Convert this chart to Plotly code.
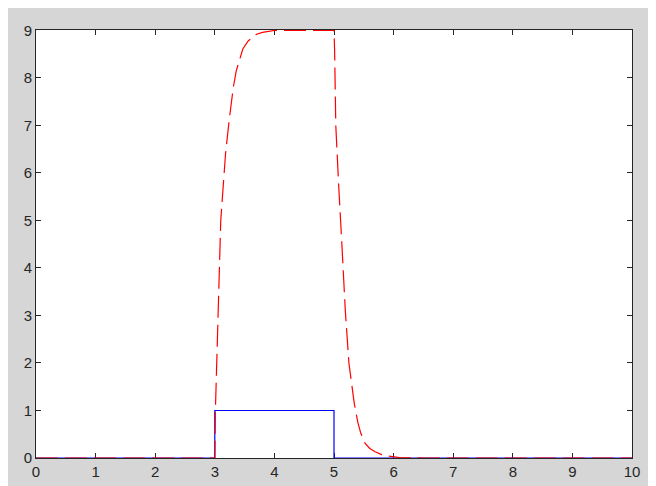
import plotly.graph_objects as go

# Input pulse (blue, solid)
pulse_x = [0, 3, 3, 5, 5, 10]
pulse_y = [0, 0, 1, 1, 0, 0]

# Response (red, dashed)
resp_x = [0, 3.0, 3.01, 3.04, 3.07, 3.10, 3.14, 3.18, 3.24, 3.31, 3.36, 3.42, 3.47, 3.56, 3.63, 3.70, 3.80, 3.92, 4.0,
          5.0, 5.01, 5.03, 5.05, 5.08, 5.13, 5.19, 5.25, 5.30, 5.34, 5.40, 5.45, 5.52, 5.60, 5.69, 5.80, 5.91, 6.1, 6.5, 10]
resp_y = [0, 0, 1.0, 2.4, 3.7, 5.0, 5.7, 6.4, 7.1, 7.8, 8.15, 8.43, 8.61, 8.78, 8.86, 8.92, 8.96, 8.98, 9.0,
          9.0, 8.6, 7.0, 6.4, 5.7, 4.55, 3.1, 2.0, 1.5, 1.15, 0.75, 0.52, 0.31, 0.2, 0.13, 0.07, 0.04, 0.01, 0.0, 0]

x_ticks = list(range(0, 11))
y_ticks = list(range(0, 10))

fig = go.Figure()
fig.add_trace(go.Scatter(x=pulse_x, y=pulse_y, mode="lines",
                         line=dict(color="#0000ff", width=1.2), showlegend=False))
fig.add_trace(go.Scatter(x=resp_x, y=resp_y, mode="lines",
                         line=dict(color="#ff0000", width=1.2, dash="22px,7px"), showlegend=False))

axis_common = dict(
    showgrid=False, zeroline=False, showline=True, linecolor="#262626", linewidth=1,
    mirror="ticks", ticks="inside", ticklen=5, tickcolor="#262626", tickwidth=1,
    tickfont=dict(family="Liberation Sans, Arial, sans-serif", size=15, color="#262626"),
    layer="below traces",
)

fig.update_xaxes(range=[0, 10], tickvals=x_ticks, ticktext=[str(v) for v in x_ticks], **axis_common)
fig.update_yaxes(range=[0, 9.01], tickvals=y_ticks, ticktext=[str(v) for v in y_ticks], **axis_common)

fig.update_layout(
    width=656, height=486,
    margin=dict(l=28, r=32, t=22, b=36),
    paper_bgcolor="#d6d6d6", plot_bgcolor="#ffffff",
    showlegend=False,
)

fig.write_html("out.html")
